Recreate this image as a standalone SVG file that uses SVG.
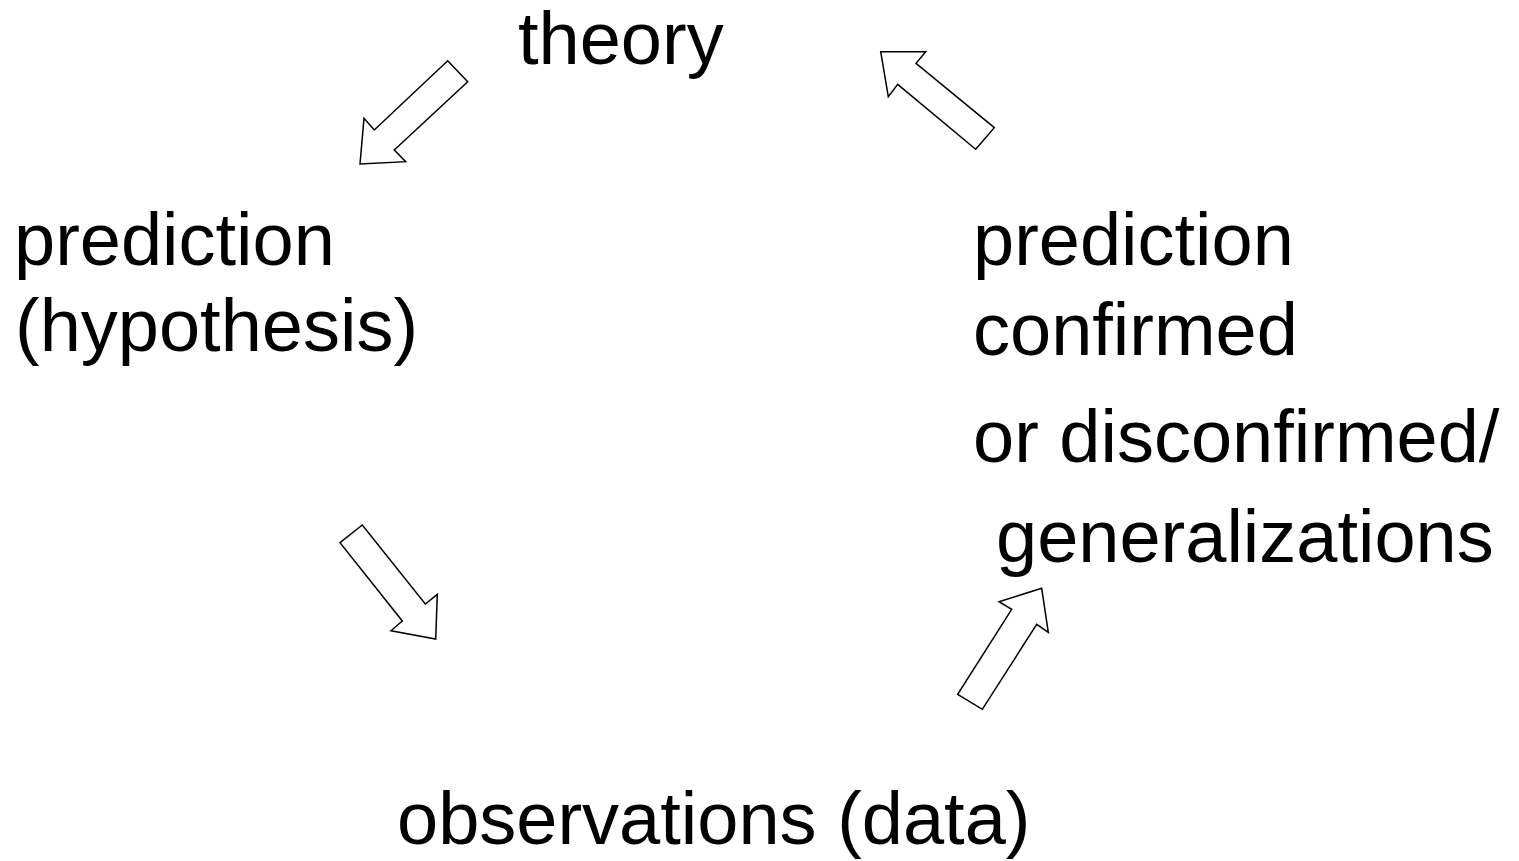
<svg xmlns="http://www.w3.org/2000/svg" width="1519" height="861" viewBox="0 0 1519 861">
<style>
text{font-family:"Liberation Sans",Arial,sans-serif;font-size:74px;fill:#000}
.arr{fill:#fff;stroke:#000;stroke-width:1.5;stroke-linejoin:miter}
</style>
<rect width="1519" height="861" fill="#fff"/>
<g id="theory"><text x="518" y="64">theory</text></g>
<g id="prediction"><text x="14" y="265">prediction</text><text x="15" y="351">(hypothesis)</text></g>
<g id="confirmed"><text x="973" y="265">prediction</text><text x="973" y="355">confirmed</text><text x="973" y="462">or disconfirmed/</text><text x="996" y="562">generalizations</text></g>
<g id="observations"><text x="397" y="844">observations (data)</text></g>
<g id="connectors">
<polygon class="arr" points="447.7,60.7 467.7,81.7 394.3,150 405.7,161.7 360,164 364,118.3 374.3,130"/>
<polygon class="arr" points="362.3,525 340,542.7 402.3,621 391,630.7 435.7,639 437.3,594.3 425.3,604"/>
<polygon class="arr" points="957.7,694.3 982.3,709.3 1036.7,624.3 1048.3,632.3 1041.7,588.3 999,601.7 1011.7,609.3"/>
<polygon class="arr" points="975.7,149.3 994.3,127.7 916,63.3 925.7,51.7 880.7,51.7 888.3,96.7 897.7,84.3"/>
</g>
</svg>
